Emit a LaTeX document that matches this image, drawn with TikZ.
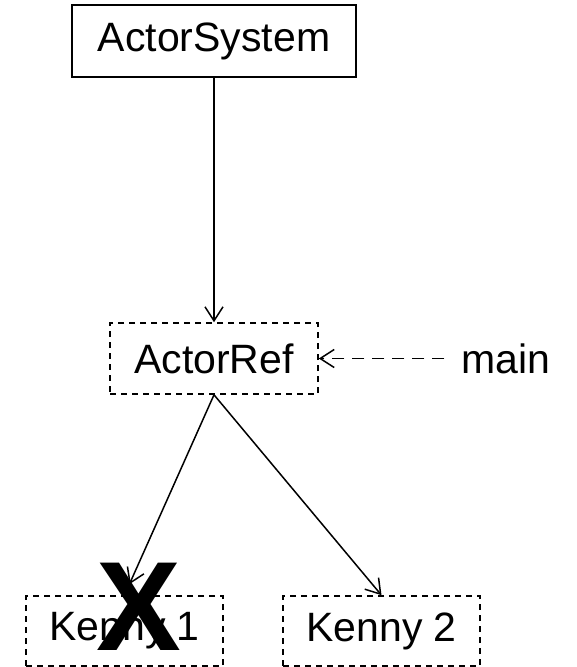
\documentclass[tikz,border=0pt]{standalone}
\usepackage{fontspec}
\setmainfont{Liberation Sans}
\usetikzlibrary{arrows.meta}
\tikzset{
  x=1pt, y=-1pt,
  box/.style={draw, line width=1.7pt, rectangle, inner sep=0pt,
    font=\fontsize{41}{41}\selectfont},
  refbox/.style={box, line width=1.6pt, dash pattern=on 6pt off 5pt},
  link/.style={line width=1.5pt, -{Straight Barb[length=14pt,width=18pt,line width=1.5pt]}},
  weak/.style={link, line width=1.7pt, dash pattern=on 12pt off 8pt},
}
\begin{document}
\begin{tikzpicture}
\useasboundingbox (0,0) rectangle (577,667);
\node[box, minimum width=284pt, minimum height=72pt] (asys) at (214,41) {ActorSystem};
\node[refbox, minimum width=208pt, minimum height=71pt] (aref) at (214,358.5) {ActorRef};
\node[font=\fontsize{41}{41}\selectfont, inner xsep=17pt, inner ysep=0pt] (main) at (506,358.5) {main};
\node[refbox, minimum width=197pt, minimum height=70pt] (k1) at (124.5,631) {Kenny 1};
\node[refbox, minimum width=197pt, minimum height=70pt] (k2) at (381.5,631) {Kenny 2};

\draw[link] (asys.south) -- (aref.north);
\draw[weak] (main.west |- aref.east) -- (aref.east);
\draw[link, shorten >=12pt] (aref.south) -- (k1.north);
\draw[link] (aref.south) -- (k2.north);

% the crossed-out child
\node[font=\fontsize{127}{127}\bfseries\selectfont, inner sep=0pt] (kill) at (139,607) {X};
\end{tikzpicture}
\end{document}
